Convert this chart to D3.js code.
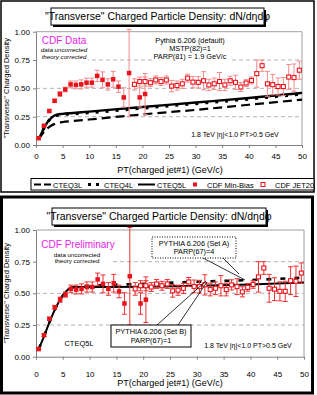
<!DOCTYPE html>
<html lang="en">
<head>
<style>
  body { margin: 0; background: #fff; }
  svg { display: block; font-family: "Liberation Sans", Arial, sans-serif; }
  .grid line { stroke: #b4b4b4; stroke-dasharray: 4,3; }
  .axis path, .axis line { stroke: #808080; }
  .axis text { fill: #000; font-size: 8px; }
</style>
</head>
<body>
<svg id="chart" width="317" height="395"></svg>
<script src="https://d3js.org/d3.v7.min.js"></script>
<script>
// CDF min-bias (filled) and JET20 (open) data, shared by both panels
const ptMB = [0.5,1.5,2.5,3.5,4.5,5.5,6.5,7.5,8.5,9.5,10.5,11.5,12.5,13.5,14.5,15.5,16.5,17.5,19.5,20.5]
const denMB = [0.06,0.17,0.30,0.39,0.45,0.49,0.535,0.53,0.535,0.55,0.55,0.61,0.575,0.535,0.58,0.515,0.42,0.635,0.42,0.45]
const errMB = [0.005,0.01,0.01,0.015,0.02,0.02,0.03,0.035,0.04,0.04,0.04,0.05,0.07,0.05,0.07,0.05,0.085,0.385,0.085,0.18]

const ptJ = [18.5,19.5,20.5,21.5,22.5,23.5,24.5,25.5,26.5,27.5,28.5,29.5,30.5,31.5,32.5,33.5,34.5,35.5,36.5,37.5,38.5,39.5,40.5,41.5,42.5,43.5,44.5,45.5,46.5,47.5,48.5,49.5]
const denJ = [0.535,0.56,0.56,0.55,0.574,0.56,0.574,0.52,0.525,0.54,0.59,0.555,0.553,0.567,0.53,0.54,0.56,0.53,0.567,0.553,0.512,0.547,0.57,0.63,0.70,0.54,0.533,0.516,0.516,0.60,0.595,0.66]
const errJ = [0.05,0.04,0.04,0.035,0.035,0.035,0.035,0.05,0.04,0.04,0.035,0.05,0.05,0.08,0.05,0.05,0.08,0.05,0.04,0.063,0.04,0.03,0.03,0.12,0.05,0.11,0.09,0.075,0.08,0.11,0.12,0.08]

// theory curves, top panel
const ptTop = [0.5,1,1.5,2,2.5,3,3.5,4,5,7,10,20,30,40,50]
const cteq5l = [0.05,0.10,0.15,0.19,0.22,0.245,0.26,0.268,0.275,0.283,0.295,0.335,0.375,0.415,0.46]
const cteq4l = [0.05,0.10,0.15,0.19,0.22,0.24,0.255,0.262,0.268,0.275,0.285,0.325,0.365,0.405,0.45]
const cteq3l = [0.05,0.085,0.115,0.14,0.16,0.175,0.185,0.193,0.203,0.212,0.225,0.27,0.31,0.355,0.40]

// theory curves, bottom panel
const ptBot = [0.5,1.5,2.5,3.5,4.5,5.5,6.5,8,10,20,30,40,50]
const setB = [0.06,0.16,0.27,0.37,0.45,0.51,0.545,0.55,0.55,0.552,0.56,0.57,0.585]
const setA = [0.06,0.16,0.27,0.37,0.45,0.51,0.545,0.553,0.56,0.575,0.592,0.605,0.625]

const yTicks = [0, 0.25, 0.5, 0.75, 1]
const xTicks = [0,5,10,15,20,25,30,35,40,45,50]

const svg = d3.select("#chart")
const red = "#e8141c"

function zip(xs, ys, es) {
    return xs.map((x, i) => ({x: x, y: ys[i], e: es ? es[i] : 0}))
}

function drawPanel(p) {
    let g = svg.append("g")
    let x = d3.scaleLinear().domain([0, 50]).range([36, p.xRight])
    let y = d3.scaleLinear().domain([0, 1]).range([p.y0, p.y1])

    // frame
    g.append("rect")
        .attr("x", p.frame[0]).attr("y", p.frame[1])
        .attr("width", p.frame[2]).attr("height", p.frame[3])
        .attr("fill", "none").attr("stroke", "#000").attr("stroke-width", p.frameW)

    // grid
    g.append("g").attr("class", "grid")
        .selectAll("line").data([0.25, 0.5, 0.75]).enter().append("line")
        .attr("x1", x(0)).attr("x2", x(50))
        .attr("y1", d => y(d)).attr("y2", d => y(d))
    g.append("path")
        .attr("d", `M${x(0)},${y(1)}H${x(50)}V${y(0)}`)
        .attr("fill", "none").attr("stroke", "#a0a0a0")

    // white boxes under text blocks
    p.blanks.forEach(b => {
        g.append("rect").attr("x", b[0]).attr("y", b[1]).attr("width", b[2]).attr("height", b[3]).attr("fill", "#fff")
    })

    // axes
    g.append("g").attr("class", "axis")
        .attr("transform", `translate(0,${y(0)})`)
        .call(d3.axisBottom(x).tickValues(xTicks).tickSize(3).tickPadding(p.xPad).tickSizeOuter(0))
    g.append("g").attr("class", "axis")
        .attr("transform", `translate(${x(0)},0)`)
        .call(d3.axisLeft(y).tickValues(yTicks).tickFormat(d3.format(".2f")).tickSize(3).tickSizeOuter(0))

    g.append("text").attr("x", 170).attr("y", p.xTitleY).attr("text-anchor", "middle")
        .attr("font-size", 9).text("PT(charged jet#1)  (GeV/c)")
    g.append("text").attr("transform", `translate(9,${(p.y0 + p.y1) / 2}) rotate(-90)`)
        .attr("text-anchor", "middle").attr("font-size", 7.5)
        .text("\"Transverse\" Charged Density")

    // title with shadow
    let t = p.title
    g.append("rect").attr("x", t[0] + 2).attr("y", t[1] + 2).attr("width", t[2]).attr("height", t[3]).attr("fill", "#000")
    g.append("rect").attr("x", t[0]).attr("y", t[1]).attr("width", t[2]).attr("height", t[3])
        .attr("fill", "#fff").attr("stroke", "#000")
    g.append("text").attr("x", t[0] + t[2] / 2).attr("y", t[1] + 12).attr("text-anchor", "middle")
        .attr("font-size", 10.5).text("\"Transverse\" Charged Particle Density: dN/dηdφ")

    // theory curves
    let line = d3.line().x(d => x(d.x)).y(d => y(d.y)).curve(d3.curveMonotoneX)
    p.curves.forEach(c => {
        g.append("path").datum(zip(c.x, c.y)).attr("d", line)
            .attr("fill", "none").attr("stroke", "#000")
            .attr("stroke-width", c.w).attr("stroke-dasharray", c.dash)
    })

    // data with error bars
    let drawSet = (data, open) => {
        let eg = g.append("g").attr("stroke", p.barColor).attr("stroke-width", 1)
        eg.selectAll("line.v").data(data).enter().append("line")
            .attr("x1", d => x(d.x)).attr("x2", d => x(d.x))
            .attr("y1", d => y(d.y - d.e)).attr("y2", d => y(d.y + d.e))
        eg.selectAll("line.t").data(data).enter().append("line")
            .attr("x1", d => x(d.x) - 2.5).attr("x2", d => x(d.x) + 2.5)
            .attr("y1", d => y(d.y + d.e)).attr("y2", d => y(d.y + d.e))
        eg.selectAll("line.b").data(data).enter().append("line")
            .attr("x1", d => x(d.x) - 2.5).attr("x2", d => x(d.x) + 2.5)
            .attr("y1", d => y(d.y - d.e)).attr("y2", d => y(d.y - d.e))
        let s = open ? 4 : 4.5
        g.append("g").selectAll("rect").data(data).enter().append("rect")
            .attr("x", d => x(d.x) - s / 2).attr("y", d => y(d.y) - s / 2)
            .attr("width", s).attr("height", s)
            .attr("fill", open ? "#fff" : red)
            .attr("stroke", open ? red : "none").attr("stroke-width", 1.1)
    }
    drawSet(zip(ptMB, denMB, errMB), false)
    drawSet(zip(ptJ, denJ, errJ), true)

    return g
}

// ---------- top panel ----------
let topG = drawPanel({
    xRight: 302, y0: 145, y1: 31.7,
    frame: [1, 1, 313, 191], frameW: 1.5,
    title: [51, 8, 213, 17],
    xPad: 5, xTitleY: 173,
    barColor: "#f28a8a",
    blanks: [[37, 33, 51, 28], [152, 33, 80, 28]],
    curves: [
        {x: ptTop, y: cteq3l, w: 2.2, dash: "9,5"},
        {x: ptTop, y: cteq5l, w: 2.4, dash: null},
        {x: ptTop, y: cteq4l, w: 3, dash: "3,7"}
    ]
})

topG.append("text").attr("x", 64).attr("y", 43.5).attr("text-anchor", "middle")
    .attr("font-size", 10).attr("fill", "#e622e6").text("CDF Data")
topG.selectAll("text.note").data(["data uncorrected", "theory corrected"]).enter().append("text")
    .attr("x", 64).attr("y", (d, i) => 52 + i * 6.5).attr("text-anchor", "middle")
    .attr("font-size", 6.2).attr("font-style", "italic").text(d => d)
topG.selectAll("text.pyth").data(["Pythia 6.206 (default)", "MSTP(82)=1", "PARP(81) = 1.9 GeV/c"]).enter().append("text")
    .attr("x", 190).attr("y", (d, i) => 43 + i * 7.8).attr("text-anchor", "middle")
    .attr("font-size", 7.3).text(d => d)
topG.append("text").attr("x", 235).attr("y", 137).attr("text-anchor", "middle")
    .attr("font-size", 7).text("1.8 TeV |η|<1.0 PT>0.5 GeV")

// legend
let lg = topG.append("g")
lg.append("rect").attr("x", 31).attr("y", 178.5).attr("width", 283).attr("height", 11.5)
    .attr("fill", "#fff").attr("stroke", "#000")
let legendItems = [
    {label: "CTEQ3L", x: 34, kind: "line", w: 2, dash: "7,3", len: 17},
    {label: "CTEQ4L", x: 88, kind: "line", w: 3, dash: "3,5", len: 14},
    {label: "CTEQ5L", x: 138, kind: "line", w: 2, dash: null, len: 17},
    {label: "CDF Min-Bias", x: 193, kind: "fill"},
    {label: "CDF JET20", x: 261, kind: "open"}
]
legendItems.forEach(it => {
    if (it.kind == "line") {
        lg.append("line").attr("x1", it.x).attr("x2", it.x + it.len).attr("y1", 184.5).attr("y2", 184.5)
            .attr("stroke", "#000").attr("stroke-width", it.w).attr("stroke-dasharray", it.dash)
        lg.append("text").attr("x", it.x + it.len + 2).attr("y", 187.5).attr("font-size", 7.5).text(it.label)
    } else {
        lg.append("rect").attr("x", it.x).attr("y", 182.5).attr("width", 4).attr("height", 4)
            .attr("fill", it.kind == "fill" ? red : "#fff").attr("stroke", it.kind == "fill" ? "none" : red)
        lg.append("text").attr("x", it.x + 14).attr("y", 187.5).attr("font-size", 7.5).text(it.label)
    }
})

// ---------- bottom panel ----------
let botG = drawPanel({
    xRight: 304, y0: 356.7, y1: 230,
    frame: [1.5, 197, 311, 196], frameW: 3,
    title: [52, 208, 214, 17],
    xPad: 12, xTitleY: 386,
    barColor: "#f03030",
    blanks: [[37, 236, 73, 30]],
    curves: [
        {x: ptBot, y: setB, w: 2, dash: null},
        {x: ptBot, y: setA, w: 2.6, dash: "5,9"}
    ]
})

botG.append("text").attr("x", 78).attr("y", 248).attr("text-anchor", "middle")
    .attr("font-size", 10).attr("fill", "#e622e6").text("CDF Preliminary")
botG.selectAll("text.note").data(["data uncorrected", "theory corrected"]).enter().append("text")
    .attr("x", 77).attr("y", (d, i) => 256.5 + i * 6).attr("text-anchor", "middle")
    .attr("font-size", 6.2).text(d => d)
botG.append("text").attr("x", 79).attr("y", 346).attr("text-anchor", "middle")
    .attr("font-size", 7.5).text("CTEQ5L")
botG.append("text").attr("x", 248).attr("y", 348).attr("text-anchor", "middle")
    .attr("font-size", 7).text("1.8 TeV |η|<1.0 PT>0.5 GeV")

// annotation boxes with leader lines
let leaders = [[203, 258, 245, 280], [223, 258, 239, 274], [157, 325, 206, 281], [178, 325, 207, 282]]
botG.selectAll("line.lead").data(leaders).enter().append("line")
    .attr("x1", d => d[0]).attr("y1", d => d[1]).attr("x2", d => d[2]).attr("y2", d => d[3])
    .attr("stroke", "#000").attr("stroke-width", 0.8)

botG.append("rect").attr("x", 152).attr("y", 237).attr("width", 84).attr("height", 21)
    .attr("fill", "#fff").attr("stroke", "#000").attr("stroke-dasharray", "1,1.5")
botG.selectAll("text.sa").data(["PYTHIA 6.206 (Set A)", "PARP(67)=4"]).enter().append("text")
    .attr("x", 194).attr("y", (d, i) => 245.5 + i * 8.5).attr("text-anchor", "middle")
    .attr("font-size", 7.3).text(d => d)

botG.append("rect").attr("x", 111).attr("y", 325).attr("width", 80).attr("height", 22)
    .attr("fill", "#fff").attr("stroke", "#000")
botG.selectAll("text.sb").data(["PYTHIA 6.206 (Set B)", "PARP(67)=1"]).enter().append("text")
    .attr("x", 151).attr("y", (d, i) => 334 + i * 8.5).attr("text-anchor", "middle")
    .attr("font-size", 7.3).text(d => d)
</script>
</body>
</html>
